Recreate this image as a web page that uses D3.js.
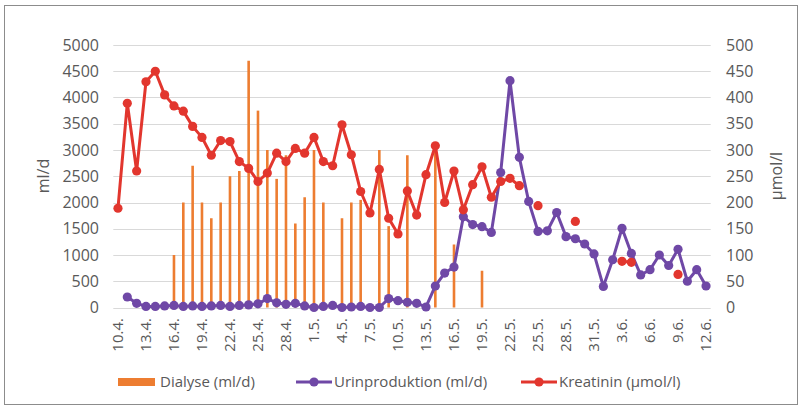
<!DOCTYPE html>
<html>
<head>
<meta charset="utf-8">
<script src="https://cdn.jsdelivr.net/npm/d3@7"></script>
<style>
  body { margin: 0; background: #fff; }
  svg { display: block; }
  text { font-family: "Open Sans", sans-serif; fill: #595959; }
</style>
</head>
<body>
<svg width="803" height="408"></svg>
<script>
var dates = [
  "10.4.", "11.4.", "12.4.", "13.4.", "14.4.", "15.4.", "16.4.", "17.4.", "18.4.", "19.4.",
  "20.4.", "21.4.", "22.4.", "23.4.", "24.4.", "25.4.", "26.4.", "27.4.", "28.4.", "29.4.",
  "30.4.", "1.5.", "2.5.", "3.5.", "4.5.", "5.5.", "6.5.", "7.5.", "8.5.", "9.5.",
  "10.5.", "11.5.", "12.5.", "13.5.", "14.5.", "15.5.", "16.5.", "17.5.", "18.5.", "19.5.",
  "20.5.", "21.5.", "22.5.", "23.5.", "24.5.", "25.5.", "26.5.", "27.5.", "28.5.", "29.5.",
  "30.5.", "31.5.", "1.6.", "2.6.", "3.6.", "4.6.", "5.6.", "6.6.", "7.6.", "8.6.",
  "9.6.", "10.6.", "11.6.", "12.6."
];

// Dialyse (ml/d) - bars, left axis
var dialyse = [
  null, null, null, null, null, null, 1000, 2000, 2700, 2000,
  1700, 2000, 2500, 2600, 4700, 3750, 3000, 2450, 2900, 1600,
  2100, 3000, 2000, null, 1700, 2000, 2050, null, 3000, 1550,
  null, 2900, null, null, 3000, null, 1200, null, null, 700,
  null, null, null, null, null, null, null, null, null, null,
  null, null, null, null, null, null, null, null, null, null,
  null, null, null, null
];

// Urinproduktion (ml/d) - line, left axis
var urin = [
  null, 200, 80, 20, 20, 30, 40, 20, 30, 20,
  30, 40, 20, 40, 50, 70, 170, 90, 60, 80,
  30, 0, 20, 40, 0, 10, 20, 0, 0, 170,
  130, 100, 80, 10, 410, 655, 770, 1730, 1580, 1540,
  1430, 2570, 4320, 2860, 2020, 1450, 1460, 1810, 1350, 1310,
  1210, 1020, 400, 910, 1510, 1030, 620, 720, 1000, 800,
  1110, 500, 720, 410
];

// Kreatinin (umol/l) - line, right axis
var kreatinin = [
  189, 389, 260, 430, 450, 405, 384, 374, 345, 324,
  290, 318, 316, 278, 265, 240, 256, 294, 278, 303,
  294, 324, 278, 270, 348, 291, 221, 180, 263, 170,
  140, 222, 176, 253, 308, 200, 260, 186, 234, 268,
  210, 240, 246, 232, null, 194, null, null, null, 164,
  null, null, null, null, 88, 86, null, null, null, null,
  63, null, null, null
];

var leftTicks = [0, 500, 1000, 1500, 2000, 2500, 3000, 3500, 4000, 4500, 5000];
var rightTicks = [0, 50, 100, 150, 200, 250, 300, 350, 400, 450, 500];

var orange = "#ED7D31", purple = "#6F48A6", red = "#E2362E";

var svg = d3.select("svg");

var x = d3.scaleBand().domain(dates).range([113.3, 710.7]).padding(0);
var yL = d3.scaleLinear().domain([0, 5000]).range([307.5, 45]);
var yR = d3.scaleLinear().domain([0, 500]).range([307.5, 45]);
var cx = function(i) { return x(dates[i]) + x.bandwidth() / 2; };

// frame
svg.append("rect")
    .attr("x", 4.5).attr("y", 5.5)
    .attr("width", 793).attr("height", 399)
    .attr("fill", "none")
    .attr("stroke", "#8c8c8c");

// gridlines
svg.append("g")
  .selectAll("line")
  .data(leftTicks)
  .enter().append("line")
    .attr("x1", 113.3).attr("x2", 710.7)
    .attr("y1", function(d) { return Math.round(yL(d)) + 0.5; })
    .attr("y2", function(d) { return Math.round(yL(d)) + 0.5; })
    .attr("stroke", "#d9d9d9")
    .attr("stroke-width", 1.2);

// left axis labels
svg.append("g")
  .selectAll("text")
  .data(leftTicks)
  .enter().append("text")
    .attr("x", 99)
    .attr("y", function(d) { return yL(d); })
    .attr("dy", "0.35em")
    .attr("text-anchor", "end")
    .style("font-size", "16px")
    .text(function(d) { return d; });

// right axis labels
svg.append("g")
  .selectAll("text")
  .data(rightTicks)
  .enter().append("text")
    .attr("x", 726)
    .attr("y", function(d) { return yR(d); })
    .attr("dy", "0.35em")
    .style("font-size", "16px")
    .text(function(d) { return d; });

// x labels, every third date
svg.append("g")
  .selectAll("text")
  .data(dates.filter(function(d, i) { return i % 3 === 0; }))
  .enter().append("text")
    .attr("transform", function(d) { return "translate(" + (x(d) + x.bandwidth() / 2) + ",318) rotate(-90)"; })
    .attr("dy", "0.35em")
    .attr("text-anchor", "end")
    .style("font-size", "15px")
    .text(function(d) { return d; });

// axis titles
svg.append("text")
    .attr("transform", "translate(43,176) rotate(-90)")
    .attr("text-anchor", "middle")
    .attr("dy", "0.35em")
    .style("font-size", "16px")
    .text("ml/d");

svg.append("text")
    .attr("transform", "translate(776,176) rotate(-90)")
    .attr("text-anchor", "middle")
    .attr("dy", "0.35em")
    .style("font-size", "16px")
    .text("µmol/l");

// bars
var barData = dialyse.map(function(v, i) { return {i: i, v: v}; }).filter(function(d) { return d.v != null; });
svg.append("g")
  .selectAll("rect")
  .data(barData)
  .enter().append("rect")
    .attr("x", function(d) { return cx(d.i) - 1.3; })
    .attr("width", 2.6)
    .attr("y", function(d) { return yL(d.v); })
    .attr("height", function(d) { return yL(0) - yL(d.v); })
    .attr("fill", orange);

var drawSeries = function(values, y, color) {
  var pts = values.map(function(v, i) { return {i: i, v: v}; });
  var line = d3.line()
      .defined(function(d) { return d.v != null; })
      .x(function(d) { return cx(d.i); })
      .y(function(d) { return y(d.v); });

  var g = svg.append("g");
  g.append("path")
      .attr("d", line(pts))
      .attr("fill", "none")
      .attr("stroke", color)
      .attr("stroke-width", 3)
      .attr("stroke-linejoin", "round");

  g.selectAll("circle")
    .data(pts.filter(function(d) { return d.v != null; }))
    .enter().append("circle")
      .attr("cx", function(d) { return cx(d.i); })
      .attr("cy", function(d) { return y(d.v); })
      .attr("r", 4.6)
      .attr("fill", color);
};

drawSeries(urin, yL, purple);
drawSeries(kreatinin, yR, red);

// legend
var legend = svg.append("g");
legend.append("rect")
    .attr("x", 118).attr("y", 378)
    .attr("width", 37).attr("height", 8)
    .attr("fill", orange);
legend.append("text")
    .attr("x", 160).attr("y", 382).attr("dy", "0.35em")
    .style("font-size", "15px")
    .text("Dialyse (ml/d)");

[{x: 296, color: purple, label: "Urinproduktion (ml/d)"},
 {x: 521, color: red, label: "Kreatinin (µmol/l)"}].forEach(function(d) {
  legend.append("line")
      .attr("x1", d.x).attr("x2", d.x + 36)
      .attr("y1", 382).attr("y2", 382)
      .attr("stroke", d.color)
      .attr("stroke-width", 3);
  legend.append("circle")
      .attr("cx", d.x + 18).attr("cy", 382)
      .attr("r", 4.6)
      .attr("fill", d.color);
  legend.append("text")
      .attr("x", d.x + 38).attr("y", 382).attr("dy", "0.35em")
      .style("font-size", "15px")
      .text(d.label);
});
</script>
</body>
</html>
